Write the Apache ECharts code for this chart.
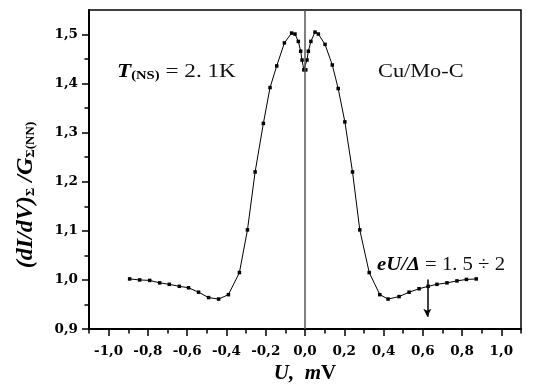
<!DOCTYPE html>
<html>
<head>
<meta charset="utf-8">
<script src="https://cdn.jsdelivr.net/npm/echarts@6/dist/echarts.min.js"></script>
<style>html,body{margin:0;padding:0;background:#fff;}#c{width:544px;height:390px;}</style>
</head>
<body>
<div id="c"></div>
<script>
// ---- data ----
var uValues = [-0.893,-0.842,-0.791,-0.740,-0.691,-0.640,-0.593,-0.542,-0.491,-0.440,-0.390,-0.334,-0.293,-0.254,-0.212,-0.178,-0.144,-0.105,-0.068,-0.051,-0.034,-0.022,-0.015,-0.006,0.004,0.010,0.017,0.030,0.051,0.068,0.102,0.139,0.169,0.203,0.242,0.279,0.327,0.381,0.423,0.479,0.530,0.581,0.627,0.672,0.723,0.774,0.822,0.872];
var gValues = [1.002,1.000,0.999,0.994,0.991,0.987,0.984,0.975,0.964,0.961,0.970,1.015,1.102,1.220,1.319,1.392,1.436,1.483,1.503,1.501,1.486,1.466,1.448,1.428,1.428,1.448,1.466,1.486,1.505,1.501,1.480,1.438,1.390,1.322,1.220,1.102,1.015,0.970,0.961,0.966,0.975,0.982,0.987,0.991,0.994,0.998,1.001,1.002];
var xTickLabels = [-1.0,-0.8,-0.6,-0.4,-0.2,0.0,0.2,0.4,0.6,0.8,1.0];
var xMinorTicks = [-1.1,-0.9,-0.7,-0.5,-0.3,-0.1,0.1,0.3,0.5,0.7,0.9,1.1];
var yTickLabels = [0.9,1.0,1.1,1.2,1.3,1.4,1.5];
var yMinorTicks = [0.95,1.05,1.15,1.25,1.35,1.45];
var arrowU = 0.623;
var arrowG = [1.001, 0.925];

var seriesData = uValues.map(function(u,i){ return [u, gValues[i]]; });
function fmt(v){ return (Math.round(v*10)/10).toFixed(1).replace('.', ','); }

var serif = 'Liberation Serif';
var tickFont = 'DejaVu Serif';

var chart = echarts.init(document.getElementById('c'), null, {renderer:'canvas'});
chart.setOption({
  animation:false,
  backgroundColor:'#fff',
  grid:{left:89, right:23, top:10, bottom:61, show:true, borderColor:'#000', borderWidth:1.5, backgroundColor:'transparent'},
  xAxis:[{
    type:'value', min:-1.1, max:1.1, position:'bottom',
    axisLine:{show:true, onZero:false, lineStyle:{color:'#000', width:2}},
    axisTick:{show:true, inside:false, length:7, customValues:xTickLabels, lineStyle:{color:'#000', width:1.5}},
    axisLabel:{show:true, customValues:xTickLabels, formatter:fmt, margin:15, color:'#000', fontFamily:tickFont, fontWeight:'bold', fontSize:13.5},
    splitLine:{show:false},
    name:'{i|U,  m}{b|V}', nameLocation:'middle', nameGap:30,
    nameTextStyle:{rich:{
      i:{fontFamily:serif, fontStyle:'italic', fontWeight:'bold', fontSize:21, color:'#000'},
      b:{fontFamily:serif, fontWeight:'bold', fontSize:21, color:'#000'}
    }}
  },{
    type:'value', min:-1.1, max:1.1, position:'bottom',
    axisLine:{show:false, onZero:false},
    axisTick:{show:true, inside:false, length:4.5, customValues:xMinorTicks, lineStyle:{color:'#000', width:1.5}},
    axisLabel:{show:false}, splitLine:{show:false}
  }],
  yAxis:[{
    type:'value', min:0.9, max:1.55, position:'left',
    axisLine:{show:true, onZero:false, lineStyle:{color:'#000', width:2}},
    axisTick:{show:true, inside:false, length:7, customValues:yTickLabels, lineStyle:{color:'#000', width:1.5}},
    axisLabel:{show:true, customValues:yTickLabels, formatter:fmt, margin:11, color:'#000', fontFamily:tickFont, fontWeight:'bold', fontSize:13.5},
    splitLine:{show:false}
  },{
    type:'value', min:0.9, max:1.55, position:'left',
    axisLine:{show:false, onZero:false},
    axisTick:{show:true, inside:false, length:4.5, customValues:yMinorTicks, lineStyle:{color:'#000', width:1.5}},
    axisLabel:{show:false}, splitLine:{show:false}
  }],
  series:[{
    type:'line', xAxisIndex:0, yAxisIndex:0,
    data:seriesData,
    symbol:'rect', symbolSize:3.5,
    itemStyle:{color:'#000'},
    lineStyle:{color:'#000', width:1},
    markLine:{
      silent:true, animation:false,
      label:{show:false},
      data:[
        [{coord:[0, 0.9], symbol:'none'}, {coord:[0, 1.55], symbol:'none', lineStyle:{color:'#555', width:1.5, type:'solid'}}],
        [{coord:[arrowU, arrowG[0]], symbol:'none'}, {coord:[arrowU, arrowG[1]], symbol:'arrow', symbolSize:[6,8], lineStyle:{color:'#000', width:1.5, type:'solid'}}]
      ],
      lineStyle:{color:'#000', width:1.5, type:'solid'}
    }
  }],
  graphic:[
    {type:'text', x:117, y:71, scaleX:1.22, style:{
      text:'{t|T}{s|(NS)}{n| = 2. 1K}', verticalAlign:'middle', align:'left',
      rich:{
        t:{fontFamily:serif, fontStyle:'italic', fontWeight:'bold', fontSize:19, fill:'#000', verticalAlign:'bottom'},
        s:{fontFamily:serif, fontWeight:'bold', fontSize:12, fill:'#000', padding:[10,0,0,0]},
        n:{fontFamily:serif, fontSize:19, fill:'#111', verticalAlign:'bottom'}
      }}},
    {type:'text', x:378, y:72, scaleX:1.24, style:{
      text:'Cu/Mo-C', fontFamily:serif, fontSize:18, fill:'#111', verticalAlign:'middle', align:'left'}},
    {type:'text', x:377, y:265, scaleX:1.15, style:{
      text:'{e|eU/Δ}{n| = 1. 5 ÷ 2}', verticalAlign:'middle', align:'left',
      rich:{
        e:{fontFamily:serif, fontStyle:'italic', fontWeight:'bold', fontSize:18, fill:'#000'},
        n:{fontFamily:serif, fontSize:18, fill:'#111'}
      }}},
    {type:'text', x:25, y:195, rotation:Math.PI/2, style:{
      text:'{a|(dI/dV)}{s|Σ}{a| /G}{s|Σ(NN)}', align:'center', verticalAlign:'middle',
      rich:{
        a:{fontFamily:serif, fontStyle:'italic', fontWeight:'bold', fontSize:24, fill:'#000', verticalAlign:'bottom'},
        s:{fontFamily:serif, fontWeight:'bold', fontSize:13, fill:'#000', padding:[12,0,0,0]}
      }}}
  ]
});
</script>
</body>
</html>
